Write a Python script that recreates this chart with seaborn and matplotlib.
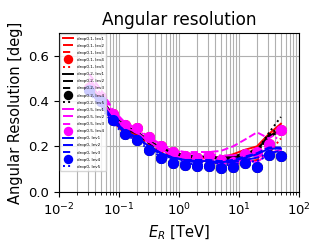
import numpy as np
import pandas as pd
import seaborn as sns
import matplotlib
matplotlib.use("Agg")
import matplotlib.pyplot as plt

## Data

# Reconstructed energy bin centres [TeV]
energy = [0.0316, 0.05, 0.0794, 0.126, 0.2, 0.316, 0.5, 0.794, 1.26, 2.0,
          3.16, 5.0, 7.94, 12.6, 20.0, 31.6, 50.1]

# drop0.1 (red)
d01_lev1 = [0.47, 0.40, 0.33, 0.28, 0.26, 0.22, 0.19, 0.17, 0.155, 0.15, 0.15, 0.15, 0.165, 0.185, 0.20, 0.255, 0.30]
d01_lev2 = [0.45, 0.38, 0.31, 0.255, 0.235, 0.20, 0.175, 0.155, 0.14, 0.135, 0.13, 0.125, 0.12, 0.13, 0.14, 0.17, 0.235]
d01_lev3 = [0.46, 0.39, 0.32, 0.27, 0.25, 0.21, 0.18, 0.16, 0.15, 0.14, 0.14, 0.135, 0.14, 0.16, 0.175, 0.24, 0.29]
d01_lev4 = [0.46, 0.42, 0.344, 0.296, 0.279, 0.240, 0.200, 0.173, 0.156, 0.147, 0.156, 0.141, 0.133, 0.167, 0.173, 0.212, 0.273]
d01_lev5 = [0.46, 0.39, 0.32, 0.27, 0.25, 0.21, 0.18, 0.16, 0.15, 0.145, 0.14, 0.14, 0.15, 0.17, 0.19, 0.24, 0.28]

# drop0.2 (black)
d02_lev1 = [0.48, 0.41, 0.34, 0.29, 0.265, 0.225, 0.195, 0.175, 0.16, 0.155, 0.155, 0.15, 0.155, 0.17, 0.185, 0.245, 0.27]
d02_lev2 = [0.47, 0.40, 0.33, 0.28, 0.26, 0.22, 0.19, 0.17, 0.155, 0.15, 0.15, 0.145, 0.15, 0.165, 0.18, 0.25, 0.29]
d02_lev3 = [0.47, 0.40, 0.33, 0.28, 0.255, 0.215, 0.185, 0.165, 0.155, 0.15, 0.145, 0.14, 0.145, 0.16, 0.175, 0.24, 0.27]
d02_lev4 = [0.45, 0.40, 0.316, 0.253, 0.227, 0.182, 0.150, 0.127, 0.117, 0.113, 0.113, 0.105, 0.108, 0.127, 0.108, 0.160, 0.157]
d02_lev5 = [0.47, 0.40, 0.33, 0.28, 0.26, 0.22, 0.19, 0.17, 0.155, 0.15, 0.145, 0.14, 0.15, 0.17, 0.18, 0.26, 0.33]

# drop0.5 (magenta)
d05_lev1 = [0.48, 0.41, 0.33, 0.285, 0.26, 0.22, 0.185, 0.16, 0.145, 0.14, 0.135, 0.13, 0.135, 0.14, 0.13, 0.17, 0.185]
d05_lev2 = [0.50, 0.43, 0.35, 0.30, 0.275, 0.235, 0.205, 0.18, 0.17, 0.165, 0.165, 0.16, 0.16, 0.165, 0.17, 0.20, 0.26]
d05_lev3 = [0.52, 0.45, 0.36, 0.305, 0.28, 0.24, 0.21, 0.185, 0.175, 0.175, 0.175, 0.18, 0.20, 0.23, 0.262, 0.235, 0.27]
d05_lev4 = [0.46, 0.42, 0.344, 0.296, 0.279, 0.240, 0.200, 0.173, 0.156, 0.147, 0.156, 0.141, 0.133, 0.167, 0.173, 0.212, 0.273]

# drop0 (blue)
d0_lev1 = [0.46, 0.39, 0.32, 0.265, 0.24, 0.20, 0.17, 0.15, 0.14, 0.135, 0.135, 0.13, 0.135, 0.15, 0.165, 0.19, 0.19]
d0_lev2 = [0.45, 0.38, 0.31, 0.26, 0.235, 0.195, 0.165, 0.145, 0.135, 0.13, 0.13, 0.125, 0.13, 0.14, 0.15, 0.17, 0.18]
d0_lev3 = [0.46, 0.39, 0.32, 0.265, 0.24, 0.20, 0.17, 0.15, 0.14, 0.14, 0.14, 0.135, 0.14, 0.155, 0.17, 0.195, 0.195]
d0_lev4 = [0.45, 0.40, 0.316, 0.253, 0.227, 0.182, 0.150, 0.127, 0.117, 0.113, 0.113, 0.105, 0.108, 0.127, 0.108, 0.160, 0.157]
d0_lev5 = [0.44, 0.37, 0.30, 0.25, 0.225, 0.185, 0.155, 0.135, 0.125, 0.12, 0.12, 0.115, 0.12, 0.13, 0.135, 0.16, 0.165]

series = [
    ("drop0.1", "red", {"lev1": d01_lev1, "lev2": d01_lev2, "lev3": d01_lev3, "lev4": d01_lev4, "lev5": d01_lev5}),
    ("drop0.2", "black", {"lev1": d02_lev1, "lev2": d02_lev2, "lev3": d02_lev3, "lev4": d02_lev4, "lev5": d02_lev5}),
    ("drop0.5", "magenta", {"lev1": d05_lev1, "lev2": d05_lev2, "lev3": d05_lev3, "lev4": d05_lev4}),
    ("drop0", "blue", {"lev1": d0_lev1, "lev2": d0_lev2, "lev3": d0_lev3, "lev4": d0_lev4, "lev5": d0_lev5}),
]

# line style per level
styles = {"lev1": "-", "lev2": "-.", "lev3": "--", "lev4": "", "lev5": ":"}

## Plot
fig, ax = plt.subplots(figsize=(3.27, 2.46), dpi=100)
fig.subplots_adjust(left=0.181, right=0.914, bottom=0.221, top=0.865)

for drop, color, levs in series:
    for lev, vals in levs.items():
        lab = f"{drop}, {lev}"
        if lev == "lev4":
            sns.lineplot(x=energy, y=vals, color=color, linestyle="", marker="o",
                         markersize=8, markeredgewidth=0, label=lab, ax=ax,
                         errorbar=None, estimator=None, sort=False)
        else:
            sns.lineplot(x=energy, y=vals, color=color, linestyle=styles[lev],
                         linewidth=1.4, label=lab, ax=ax,
                         errorbar=None, estimator=None, sort=False)

ax.set_xscale("log")
ax.set_xlim(1e-2, 1e2)
ax.set_ylim(0, 0.7)
ax.set_yticks([0.0, 0.2, 0.4, 0.6])
ax.grid(True, which="both")
ax.set_title("Angular resolution", fontsize=12.2)
ax.set_xlabel(r"$E_R$ [TeV]", fontsize=10.5)
ax.set_ylabel("Angular Resolution [deg]", fontsize=10.5)
ax.tick_params(labelsize=9.5)
ax.legend(loc="upper left", fontsize=3, labelspacing=0.75, handlelength=2.6,
          borderpad=0.5, borderaxespad=0.3, markerscale=0.85)

plt.savefig("out.png", dpi=100)
